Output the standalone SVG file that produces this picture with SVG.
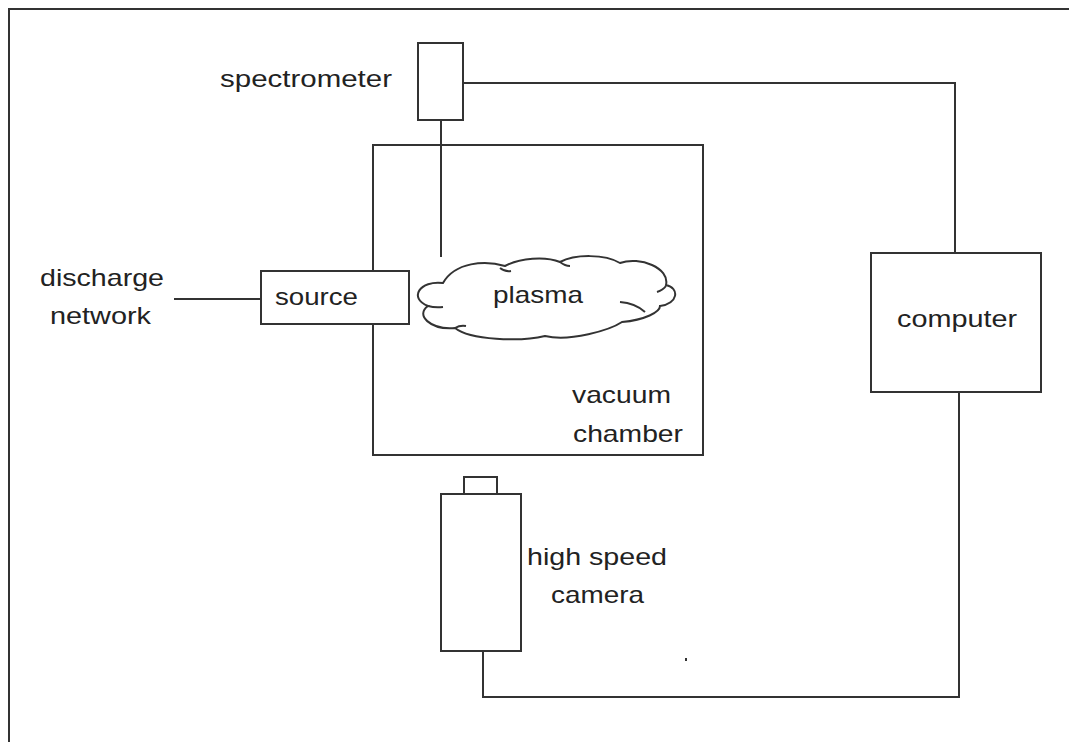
<svg xmlns="http://www.w3.org/2000/svg" width="1069" height="742" viewBox="0 0 1069 742">
<style>
.ln{fill:none;stroke:#333;stroke-width:2}
.bx{fill:#fff;stroke:#333;stroke-width:2}
.tx{font-family:"Liberation Sans",Arial,sans-serif;font-size:24px;fill:#222}
</style>
<rect width="1069" height="742" fill="#fff"/>
<path class="ln" d="M9,742 L9,9 L1069,9"/>
<g id="chamber">
<rect class="ln" x="373" y="145" width="330" height="310"/>
<text class="tx" x="572" y="403" textLength="99" lengthAdjust="spacingAndGlyphs">vacuum</text>
<text class="tx" x="573" y="442" textLength="110" lengthAdjust="spacingAndGlyphs">chamber</text>
</g>
<g id="connectors">
<path class="ln" d="M463,83 L955,83 L955,253"/>
<path class="ln" d="M441,120 L441,257"/>
<path class="ln" d="M174,299 L261,299"/>
<path class="ln" d="M959,392 L959,697 L483,697 L483,651"/>
</g>
<g id="spectrometer">
<rect class="bx" x="418" y="43" width="45" height="77"/>
<text class="tx" x="220" y="87" textLength="172" lengthAdjust="spacingAndGlyphs">spectrometer</text>
</g>
<g id="discharge">
<text class="tx" x="40" y="286" textLength="124" lengthAdjust="spacingAndGlyphs">discharge</text>
<text class="tx" x="50" y="324" textLength="101" lengthAdjust="spacingAndGlyphs">network</text>
</g>
<g id="source">
<rect class="bx" x="261" y="271" width="148" height="53"/>
<text class="tx" x="275" y="305" textLength="83" lengthAdjust="spacingAndGlyphs">source</text>
</g>
<g id="plasma">
<path class="bx" d="M443,283 C420,280 408,298 428,306 C415,315 430,330 455,328 C470,340 520,342 545,336 C570,342 610,330 622,322 C645,320 660,312 660,306 C678,304 680,288 666,285 C670,268 640,256 620,263 C605,254 575,254 560,262 C545,256 520,258 505,266 C485,260 455,262 443,283 Z"/>
<path class="ln" d="M500,268 Q505,272 511,271 M620,302 Q635,303 645,312 M657,292 Q663,290 666,286 M428,306 Q435,308 443,307 M455,328 Q460,325 466,326 M560,262 Q565,266 570,266"/>
<text class="tx" x="493" y="303" textLength="90" lengthAdjust="spacingAndGlyphs">plasma</text>
</g>
<g id="computer">
<rect class="bx" x="871" y="253" width="170" height="139"/>
<text class="tx" x="897" y="327" textLength="120" lengthAdjust="spacingAndGlyphs">computer</text>
</g>
<g id="camera">
<rect class="bx" x="464" y="477" width="33" height="17"/>
<rect class="bx" x="441" y="494" width="80" height="157"/>
<text class="tx" x="527" y="565" textLength="140" lengthAdjust="spacingAndGlyphs">high speed</text>
<text class="tx" x="551" y="603" textLength="93" lengthAdjust="spacingAndGlyphs">camera</text>
</g>
<rect x="685" y="658" width="2" height="3" fill="#333"/>
</svg>
